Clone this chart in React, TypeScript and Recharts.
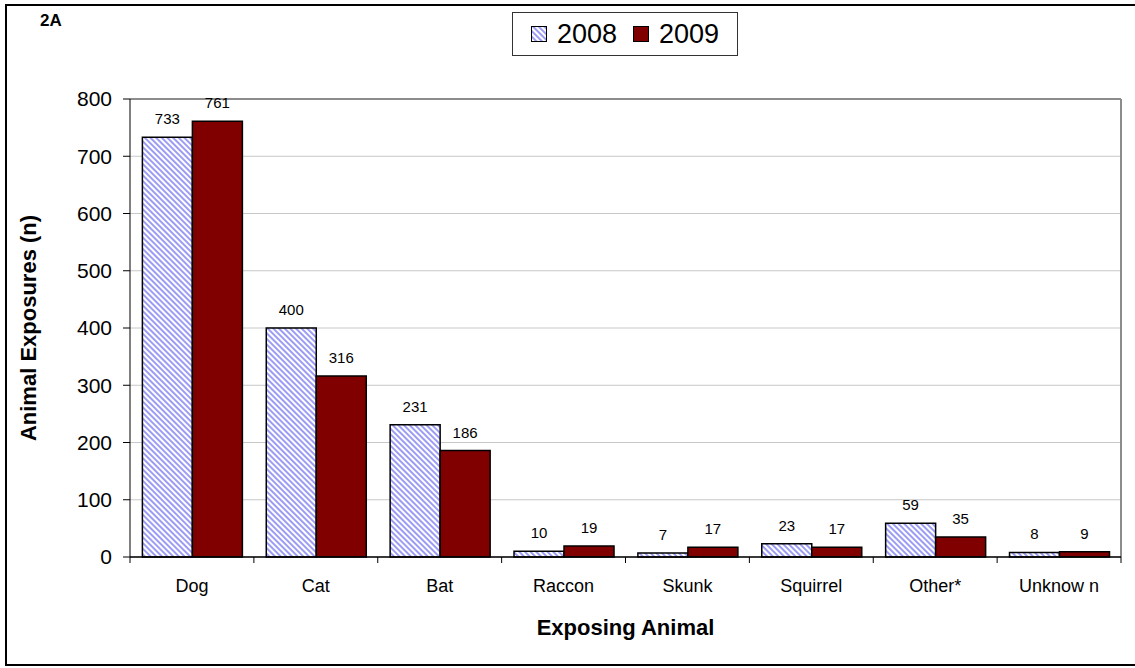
import { BarChart, Bar, XAxis, YAxis, CartesianGrid, Legend, LabelList, ReferenceLine } from 'recharts';

const animals = ['Dog', 'Cat', 'Bat', 'Raccon', 'Skunk', 'Squirrel', 'Other*', 'Unknow n'];
const exposures2008 = [733, 400, 231, 10, 7, 23, 59, 8];
const exposures2009 = [761, 316, 186, 19, 17, 17, 35, 9];
const yTicks = [0, 100, 200, 300, 400, 500, 600, 700, 800];

const data = animals.map((name, i) => ({
  name,
  y2008: exposures2008[i],
  y2009: exposures2009[i],
}));

const W = 1135;
const H = 668;
const FONT = '"Liberation Sans", Arial, sans-serif';
const LEGEND_H = 44;
// the legend box height is added to the top margin by the chart
const margin = { top: 99 - LEGEND_H, right: 14, bottom: 0, left: 28 };
const Y_AXIS_W = 102;
const X_AXIS_H = 111;
const halfBand = (W - margin.left - Y_AXIS_W - margin.right) / animals.length / 2;

// category label with Excel-style tick marks between the groups
const CategoryTick = (props: any) => {
  const { x, y, payload, index, visibleTicksCount } = props;
  const half = payload && payload.offset ? payload.offset : halfBand;
  const isLast = index === visibleTicksCount - 1;
  return (
    <g>
      <line x1={x - half} y1={y} x2={x - half} y2={y + 6} stroke="#000" />
      {isLast && <line x1={x + half} y1={y} x2={x + half} y2={y + 6} stroke="#000" />}
      <text x={x} y={y + 35} textAnchor="middle" fontSize={18} fontFamily={FONT} fill="#000">
        {payload.value}
      </text>
    </g>
  );
};

const YearLegend = (props: any) => {
  const items = props.payload || [];
  return (
    <div
      style={{
        border: '1px solid #333',
        height: LEGEND_H,
        boxSizing: 'border-box',
        display: 'flex',
        alignItems: 'center',
        justifyContent: 'center',
        gap: 16,
        background: '#fff',
        fontFamily: FONT,
        fontSize: 27,
      }}
    >
      {items.map((item: any) => (
        <span key={item.value} style={{ display: 'flex', alignItems: 'center' }}>
          <svg width={16} height={16} style={{ marginRight: 10 }}>
            <rect x={0.5} y={0.5} width={15} height={15} fill={item.color} stroke="#000" />
          </svg>
          {item.value}
        </span>
      ))}
    </div>
  );
};

// right edge of the plot area
const rightEdge = ({ offset }: any) => [offset.left + offset.width];

export default function App() {
  return (
    <div style={{ position: 'absolute', left: 0, top: 0, width: W, height: H, background: '#fff' }}>
      <svg width={0} height={0} style={{ position: 'absolute' }}>
        <defs>
          <pattern id="stripes2008" width={4} height={4} patternUnits="userSpaceOnUse" patternTransform="rotate(-45)">
            <rect width={4} height={4} fill="#ffffff" />
            <rect width={2} height={4} fill="#9c9cf4" />
          </pattern>
        </defs>
      </svg>
      <div
        style={{
          position: 'absolute',
          left: 5,
          top: 4,
          width: W - 5,
          height: 662,
          boxSizing: 'border-box',
          borderLeft: '2px solid #000',
          borderTop: '2px solid #000',
          borderBottom: '2px solid #000',
        }}
      />
      <div
        style={{
          position: 'absolute',
          left: 40,
          top: 11,
          fontFamily: FONT,
          fontWeight: 'bold',
          fontSize: 17,
        }}
      >
        2A
      </div>
      <BarChart width={W} height={H} data={data} margin={margin} barCategoryGap="10%" barGap={0}>
        <CartesianGrid vertical={false} stroke="#c8c8c8" />
        <CartesianGrid
          horizontal={false}
          verticalCoordinatesGenerator={rightEdge}
          stroke="#8c8c8c"
          strokeWidth={2}
        />
        <ReferenceLine y={800} stroke="#8c8c8c" strokeWidth={2} />
        <XAxis
          dataKey="name"
          height={X_AXIS_H}
          axisLine={{ stroke: '#000', strokeWidth: 1.5 }}
          tickLine={false}
          tickSize={0}
          tickMargin={0}
          interval={0}
          tick={<CategoryTick />}
          label={{
            value: 'Exposing Animal',
            position: 'insideBottom',
            offset: 33,
            style: { fontFamily: FONT, fontWeight: 'bold', fontSize: 22, fill: '#000' },
          }}
        />
        <YAxis
          width={Y_AXIS_W}
          domain={[0, 800]}
          ticks={yTicks}
          interval={0}
          axisLine={{ stroke: '#000' }}
          tickLine={{ stroke: '#000' }}
          tickSize={7}
          tickMargin={11}
          tick={{ fontSize: 21, fontFamily: FONT, fill: '#000' }}
          label={{
            value: 'Animal Exposures (n)',
            angle: -90,
            position: 'insideLeft',
            offset: 0,
            style: { textAnchor: 'middle', fontFamily: FONT, fontWeight: 'bold', fontSize: 22, fill: '#000' },
          }}
        />
        <Legend
          verticalAlign="top"
          content={<YearLegend />}
          wrapperStyle={{ left: 512, top: 12, width: 226 }}
        />
        <Bar dataKey="y2008" name="2008" fill="url(#stripes2008)" stroke="#000" strokeWidth={1.5} isAnimationActive={false}>
          <LabelList dataKey="y2008" position="top" offset={13} style={{ fontSize: 15, fontFamily: FONT, fill: '#000' }} />
        </Bar>
        <Bar dataKey="y2009" name="2009" fill="#800000" stroke="#000" strokeWidth={1.5} isAnimationActive={false}>
          <LabelList dataKey="y2009" position="top" offset={13} style={{ fontSize: 15, fontFamily: FONT, fill: '#000' }} />
        </Bar>
      </BarChart>
    </div>
  );
}
